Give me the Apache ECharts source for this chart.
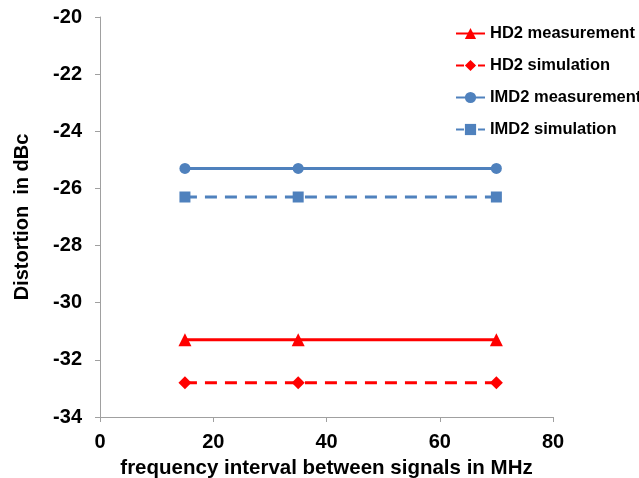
<!DOCTYPE html>
<html><head><meta charset="utf-8">
<script src="https://cdn.jsdelivr.net/npm/echarts@6/dist/echarts.min.js"></script>
<style>html,body{margin:0;padding:0;background:#fff}#c{width:639px;height:478px}</style>
</head><body><div id="c"></div>
<script>
const xValues = [15, 35, 70];
const hd2Measurement = [-31.3, -31.3, -31.3];
const hd2Simulation = [-32.8, -32.8, -32.8];
const imd2Measurement = [-25.3, -25.3, -25.3];
const imd2Simulation = [-26.3, -26.3, -26.3];
const seriesNames = ['HD2 measurement', 'HD2 simulation', 'IMD2 measurement', 'IMD2 simulation'];
const xTitle = 'frequency interval between signals in MHz';
const yTitle = 'Distortion  in dBc';

const RED = '#ff0000', BLUE = '#4f81bd';
const font = 'Arial, "Liberation Sans", sans-serif';
function pairs(vals){ return xValues.map((x,i)=>[x, vals[i]]); }
function mk(name, vals, color, symbol, size, dashed){
  return {name, type:'line', data:pairs(vals), symbol, symbolSize:size,
    itemStyle:{color}, lineStyle:{color, width:3, type: dashed ? [12,8] : 'solid'},
    emphasis:{disabled:true}, animation:false};
}
const chart = echarts.init(document.getElementById('c'));
chart.setOption({
  animation:false,
  grid:{left:100, right:86, top:17, bottom:61, containLabel:false, outerBoundsMode:'none'},
  legend:{orient:'vertical', left:455, top:24, padding:0, itemGap:13, itemWidth:29, itemHeight:14,
    textStyle:{fontFamily:font, fontWeight:'bold', fontSize:16.5, color:'#000', lineHeight:19},
    data:[
      {name:seriesNames[0]},
      {name:seriesNames[1], lineStyle:{type:[8,3]}},
      {name:seriesNames[2]},
      {name:seriesNames[3], lineStyle:{type:[8,3]}}
    ]},
  xAxis:{type:'value', min:0, max:80, interval:20,
    name:xTitle, nameLocation:'middle', nameGap:41,
    nameTextStyle:{fontFamily:font, fontWeight:'bold', fontSize:20.5, color:'#000'},
    axisLine:{show:true, onZero:false, lineStyle:{color:'#a0a0a0', width:1}},
    axisTick:{show:true, length:5, lineStyle:{color:'#a0a0a0'}},
    axisLabel:{fontFamily:font, fontWeight:'bold', fontSize:20, color:'#000', margin:15},
    splitLine:{show:false}},
  yAxis:{type:'value', min:-34, max:-20, interval:2,
    name:yTitle, nameLocation:'middle', nameGap:68,
    nameTextStyle:{fontFamily:font, fontWeight:'bold', fontSize:20, color:'#000'},
    axisLine:{show:true, onZero:false, lineStyle:{color:'#a0a0a0', width:1}},
    axisTick:{show:true, length:5, lineStyle:{color:'#a0a0a0'}},
    axisLabel:{fontFamily:font, fontWeight:'bold', fontSize:20, color:'#000', margin:18},
    splitLine:{show:false}},
  series:[
    mk(seriesNames[0], hd2Measurement, RED, 'triangle', 13, false),
    mk(seriesNames[1], hd2Simulation, RED, 'diamond', 13, true),
    mk(seriesNames[2], imd2Measurement, BLUE, 'circle', 11, false),
    mk(seriesNames[3], imd2Simulation, BLUE, 'rect', 11, true)
  ]
});
</script></body></html>
